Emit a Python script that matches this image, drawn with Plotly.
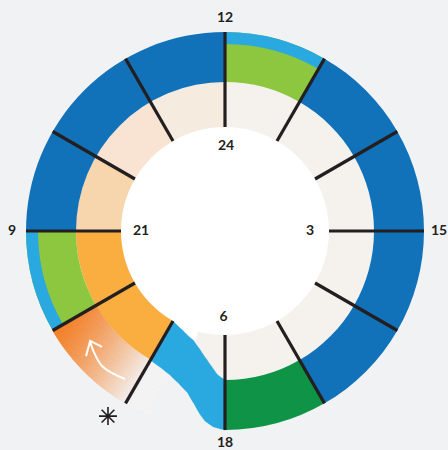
import numpy as np
import plotly.graph_objects as go

# ------------------------------------------------------------------ data
# hour labels on the spiral clock (outer = day, inner = night)
outer_tick_hours = [12, 15, 18, 9]
outer_tick_labels = ["12", "15", "18", "9"]
inner_tick_hours = [24, 3, 6, 21]
inner_tick_labels = ["24", "3", "6", "21"]

# day ring (outer) activities, hours
day_start = [8, 9, 12, 13, 17]
day_end = [9, 12, 13, 17, 18]
day_activity = ["break", "work", "break", "work", "sport"]
# thin light-blue strips on the outer edge of the break blocks
strip_start = [8, 12]
strip_end = [9, 13]
# morning block (gradient) and the transition from day ring to night ring
morning_start, morning_end = 7, 8
transition_start, transition_end = 18, 19

# night ring (inner) activities, hours
night_start = [19, 21, 22, 23, 0]
night_end = [21, 22, 23, 24, 6]
night_activity = ["evening", "wind1", "wind2", "wind3", "sleep"]

spoke_hours = list(range(12))

# ------------------------------------------------------------------ style
BG = "#F1F2F4"
INK = "#231F20"
colors = {
    "break": "#8DC63F", "work": "#1172BA", "sport": "#0F9447",
    "evening": "#FBAE40", "wind1": "#F7D5AD", "wind2": "#F9E4D3",
    "wind3": "#F5EBDF", "sleep": "#F5F2EE", "strip": "#29A9E0",
}
R0, R1, R2 = 104, 149, 199      # white disk / ring boundary / outer edge
STRIP = 12
CX, CY = 225, 231               # centre of the clock in page pixels
W, H = 448, 450


def ang(h):
    return (h % 12) * 30.0


def centre_width(s, e):
    w = (e - s) * 30.0
    return (s * 30.0 + w / 2) % 360, w


def to_xy(r, theta):
    t = np.radians(np.asarray(theta, dtype=float))
    r = np.asarray(r, dtype=float)
    return r * np.sin(t), r * np.cos(t)


fig = go.Figure()

# white disk
fig.add_trace(go.Barpolar(theta=[45, 135, 225, 315], width=[90] * 4, base=[0] * 4,
                          r=[R0] * 4, marker=dict(color="white", line=dict(color="white", width=1)),
                          hoverinfo="skip"))

# night ring
th, wd = zip(*[centre_width(s, e) for s, e in zip(night_start, night_end)])
fig.add_trace(go.Barpolar(theta=list(th), width=list(wd), base=[R0] * len(th),
                          r=[R1 - R0] * len(th),
                          marker=dict(color=[colors[a] for a in night_activity], line=dict(width=0)),
                          hoverinfo="skip"))

# day ring
th, wd = zip(*[centre_width(s, e) for s, e in zip(day_start, day_end)])
fig.add_trace(go.Barpolar(theta=list(th), width=list(wd), base=[R1] * len(th),
                          r=[R2 - R1] * len(th),
                          marker=dict(color=[colors[a] for a in day_activity], line=dict(width=0)),
                          hoverinfo="skip"))

# strips
th, wd = zip(*[centre_width(s, e) for s, e in zip(strip_start, strip_end)])
fig.add_trace(go.Barpolar(theta=list(th), width=list(wd), base=[R2 - STRIP] * len(th),
                          r=[STRIP] * len(th),
                          marker=dict(color=colors["strip"], line=dict(width=0)),
                          hoverinfo="skip"))

# morning gradient block (orange fading out)
c0 = np.array([243, 127, 38])
c1 = np.array([244, 243, 243])
a0, a1 = ang(morning_start), ang(morning_end)
d_ang, d_r = 1.0, 5.0
A = np.array(to_xy(190, 241))
B = np.array(to_xy(168, 209))
dvec = B - A
gt, gr, gc = [], [], []
for t_ in np.arange(a0 - 8, a1, d_ang):
    for r_ in np.arange(R1, R2, d_r):
        tc, rc = t_ + d_ang / 2, r_ + d_r / 2
        p = np.array(to_xy(rc, tc))
        t = np.clip(np.dot(p - A, dvec) / np.dot(dvec, dvec), 0, 1) ** 1.3
        c = (c0 * (1 - t) + c1 * t).astype(int)
        gt.append(tc)
        gr.append(r_)
        gc.append("rgb(%d,%d,%d)" % tuple(c))
fig.add_trace(go.Barpolar(theta=gt, width=[d_ang] * len(gt), base=gr, r=[d_r] * len(gt),
                          marker=dict(color=gc, line=dict(color=gc, width=0.6)),
                          hoverinfo="skip"))

# transition band (day ring -> night ring)
t_a, t_b = ang(transition_start), ang(transition_end)   # 180 -> 210
prof_theta_in = [180, 183, 185, 188, 192, 196, 203, 210]
prof_r_in = [149, 144, 138, 130, 121, 114, 108, 104]
prof_theta_out = [180, 183.5, 186, 188, 190, 193, 197, 201, 205, 210]
prof_r_out = [199, 196, 191, 184, 176, 166, 159, 154, 151, 149]
tt = np.linspace(t_a, t_b, 121)
rin = np.interp(tt, prof_theta_in, prof_r_in)
rout = np.interp(tt, prof_theta_out, prof_r_out)

# white fill above the band
fig.add_trace(go.Scatterpolar(theta=np.r_[tt, tt[::-1]], r=np.r_[rin, np.full_like(tt, R0 - 4)],
                              mode="lines", fill="toself", fillcolor="white",
                              line=dict(width=0, color="white"), hoverinfo="skip"))
# end of the sleep block under the band
m = tt <= 195
fig.add_trace(go.Scatterpolar(theta=np.r_[tt[m], tt[m][::-1]], r=np.r_[rin[m], np.full(m.sum(), R0)],
                              mode="lines", fill="toself", fillcolor=colors["sleep"],
                              line=dict(width=0, color=colors["sleep"]), hoverinfo="skip"))
fig.add_trace(go.Scatterpolar(theta=np.r_[tt, tt[::-1]], r=np.r_[rin, rout[::-1]],
                              mode="lines", fill="toself", fillcolor=colors["strip"],
                              line=dict(width=0.5, color=colors["strip"]), hoverinfo="skip"))

# spokes
sr, st = [], []
for h in spoke_hours:
    sr += [R0, R2, None]
    st += [ang(h), ang(h), None]
fig.add_trace(go.Scatterpolar(r=sr, theta=st, mode="lines",
                              line=dict(color=INK, width=3.2), hoverinfo="skip"))

# arrow (direction of the day)
fig.add_trace(go.Scatterpolar(r=[178.6, 182.7, 177.7, 174], theta=[214, 222, 228, 230.8],
                              mode="lines", line=dict(color="white", width=2, shape="spline"),
                              hoverinfo="skip"))
fig.add_trace(go.Scatterpolar(r=[187, 174, 169], theta=[228, 230.8, 226.7], mode="lines",
                              line=dict(color="white", width=2), hoverinfo="skip"))

font = dict(family="Lato, Open Sans, sans-serif", size=14, color=INK, weight=700)
fig.add_trace(go.Scatterpolar(r=[85, 85, 87, 84], theta=[0.7, 90.5, 181, 270],
                              mode="text", text=inner_tick_labels, textfont=font,
                              hoverinfo="skip"))

# outer labels and start marker on a pixel-scaled cartesian overlay
ox, oy = to_xy([213, 214, 212, 213], [ang(h) for h in outer_tick_hours])
fig.add_trace(go.Scatter(x=ox, y=oy, mode="text", text=outer_tick_labels, textfont=font,
                         hoverinfo="skip", cliponaxis=False))
sx, sy = to_xy([219], [212.3])
fig.add_trace(go.Scatter(x=sx, y=sy, mode="markers", cliponaxis=False, hoverinfo="skip",
                         marker=dict(symbol="asterisk-open", size=15, color=INK,
                                     line=dict(color=INK, width=1.6))))

fig.update_layout(
    width=W, height=H, margin=dict(l=0, r=0, t=0, b=0),
    paper_bgcolor=BG, plot_bgcolor="rgba(0,0,0,0)", showlegend=False,
    xaxis=dict(visible=False, range=[-CX, W - CX], domain=[0, 1], fixedrange=True),
    yaxis=dict(visible=False, range=[CY - H, CY], domain=[0, 1], fixedrange=True),
    polar=dict(
        domain=dict(x=[(CX - 200) / W, (CX + 200) / W], y=[(H - CY - 200) / H, (H - CY + 200) / H]),
        bgcolor="rgba(0,0,0,0)",
        angularaxis=dict(visible=False, rotation=90, direction="clockwise"),
        radialaxis=dict(visible=False, range=[0, 200]),
        barmode="overlay",
    ),
    dragmode=False,
)
fig.write_html("out.html", config={"displayModeBar": False, "staticPlot": True},
               post_script="document.body.style.margin='0px';document.body.style.overflow='hidden';")
